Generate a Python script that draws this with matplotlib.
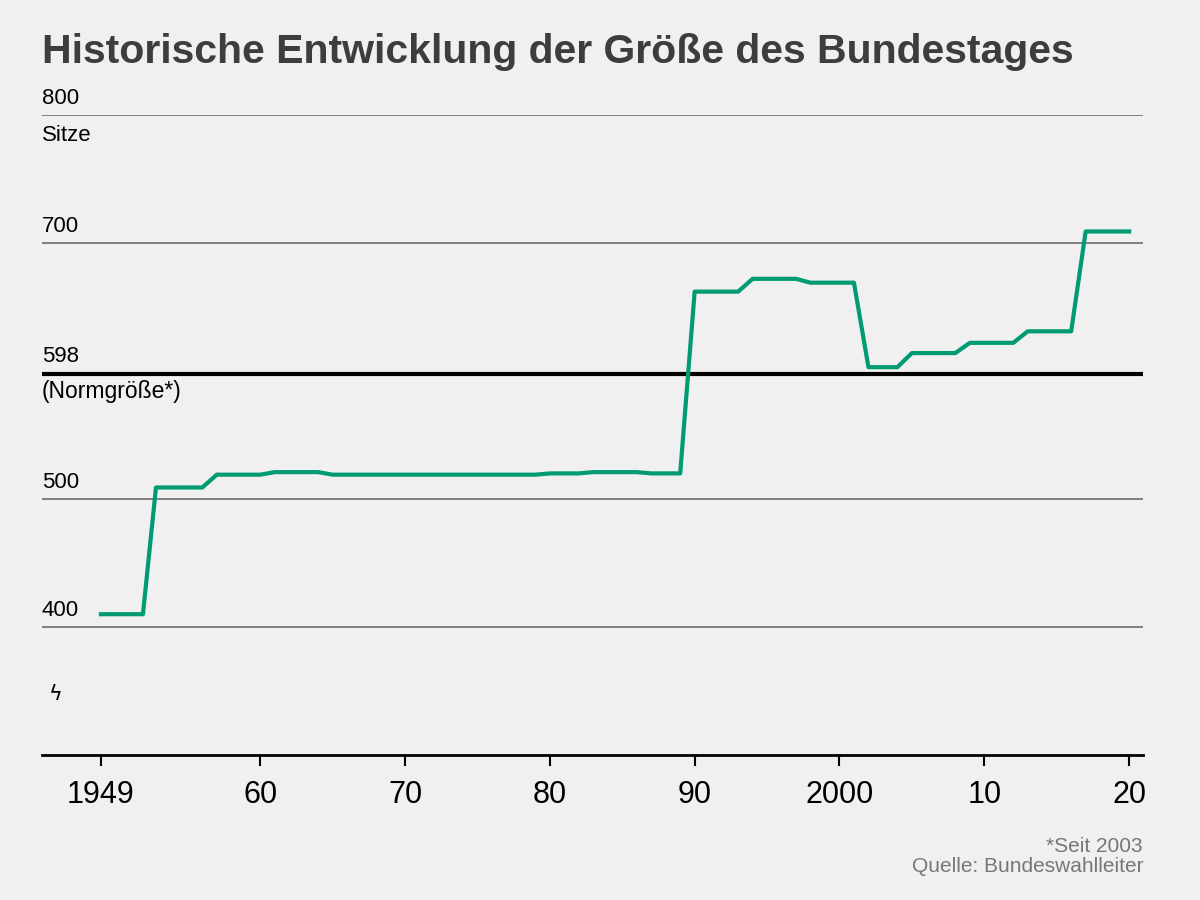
import matplotlib.pyplot as plt

years = [1949, 1951.9, 1952.8, 1956.0, 1957, 1960, 1961, 1964, 1965, 1979, 1980, 1982, 1983,
         1986, 1987, 1989, 1990, 1993, 1994, 1997, 1998, 2001, 2002, 2004, 2005, 2008,
         2009, 2012, 2013, 2016, 2017, 2020]
seats = [410, 410, 509, 509, 519, 519, 521, 521, 519, 519, 520, 520, 521,
         521, 520, 520, 662, 662, 672, 672, 669, 669, 603, 603, 614, 614,
         622, 622, 631, 631, 709, 709]
grid_vals = [400, 500, 700, 800]
x_ticks = [1949, 1960, 1970, 1980, 1990, 2000, 2010, 2020]
x_labels = ['1949', '60', '70', '80', '90', '2000', '10', '20']

bg = '#f0f0f0'
plt.rcParams['font.family'] = ['Liberation Sans', 'DejaVu Sans']
fig = plt.figure(figsize=(12, 9), dpi=100, facecolor=bg)
ax = fig.add_axes([0.035, 1 - 755 / 900, (1143 - 42) / 1200, (755 - 115) / 900], facecolor=bg)
ax.set_xlim(1944.93, 2020.96)
ax.set_ylim(300, 800)

for v in grid_vals:
    ax.axhline(v, color='#777777', lw=1.3, zorder=1)
    ax.text(1944.93, v + 5, str(v), fontsize=16, va='bottom', ha='left')
ax.text(1944.93, 792, 'Sitze', fontsize=16, va='top', ha='left')
ax.axhline(598, color='black', lw=3, zorder=2)
ax.text(1944.93, 603, '598', fontsize=16, va='bottom', ha='left')
ax.text(1944.93, 593, '(Normgröße*)', fontsize=16.5, va='top', ha='left')
ax.text(1945.8, 348, 'ϟ', fontsize=15, va='center', ha='center', family='DejaVu Sans')

ax.plot(years, seats, color='#009b72', lw=3, zorder=3)

for s in ['top', 'right', 'left']:
    ax.spines[s].set_visible(False)
ax.spines['bottom'].set_linewidth(2)
ax.set_yticks([])
ax.set_xticks(x_ticks, x_labels, fontsize=22)
ax.tick_params(axis='x', length=8, width=1.5, pad=10)

fig.text(42 / 1200, 1 - 52 / 900, 'Historische Entwicklung der Größe des Bundestages',
         fontsize=29.5, fontweight='bold', color='#3d3d3d', va='center')
fig.text(1143 / 1200, 1 - 846 / 900, '*Seit 2003', fontsize=15, color='#777777', ha='right', va='center')
fig.text(1143 / 1200, 1 - 867 / 900, 'Quelle: Bundeswahlleiter', fontsize=15, color='#777777', ha='right', va='center')

fig.savefig('out.png', facecolor=bg)
